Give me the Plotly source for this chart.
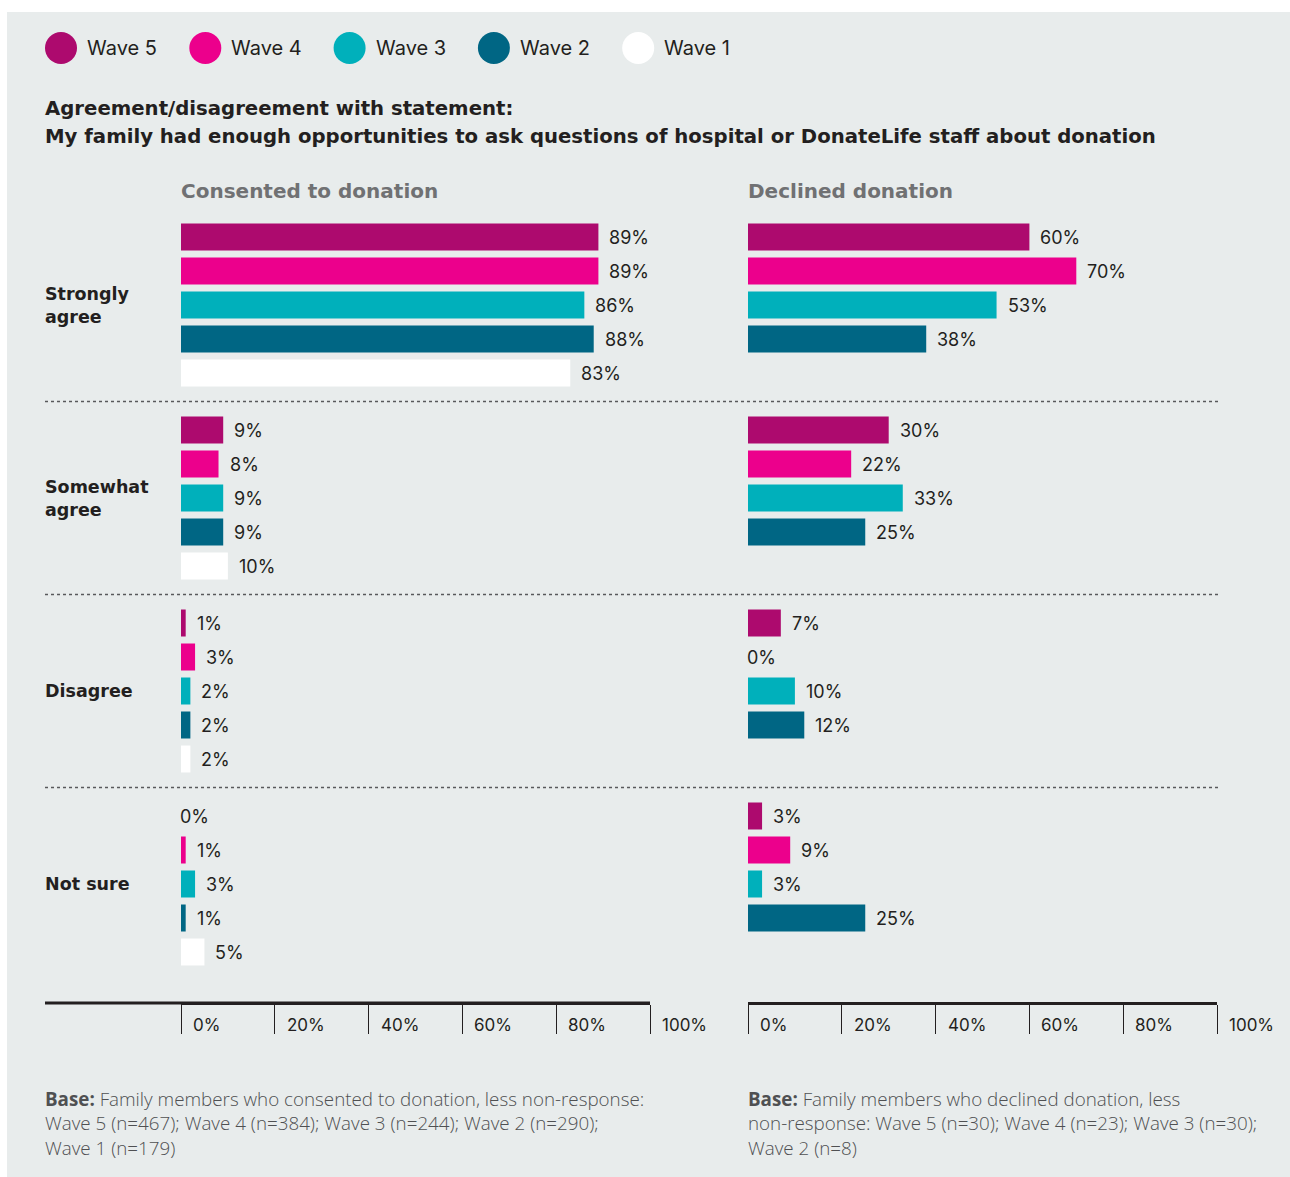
import plotly.graph_objects as go

# ---- data ---------------------------------------------------------------
waves = ["Wave 5", "Wave 4", "Wave 3", "Wave 2", "Wave 1"]
wave_colors = ["#ad0a6e", "#ec008c", "#00b0bb", "#006684", "#ffffff"]
responses = ["Strongly<br>agree", "Somewhat<br>agree", "Disagree", "Not sure"]

# percentages per response, ordered Wave 5 .. Wave 1
consented = {
    "Wave 5": [89, 9, 1, 0],
    "Wave 4": [89, 8, 3, 1],
    "Wave 3": [86, 9, 2, 3],
    "Wave 2": [88, 9, 2, 1],
    "Wave 1": [83, 10, 2, 5],
}
# Wave 1 was not asked of families who declined
declined = {
    "Wave 5": [60, 30, 7, 3],
    "Wave 4": [70, 22, 0, 9],
    "Wave 3": [53, 33, 10, 3],
    "Wave 2": [38, 25, 12, 25],
}
tick_values = [0, 20, 40, 60, 80, 100]

title_lines = [
    "Agreement/disagreement with statement:",
    "My family had enough opportunities to ask questions of hospital or DonateLife staff about donation",
]
panel_titles = ["Consented to donation", "Declined donation"]
base_notes = [
    "<b>Base:</b> Family members who consented to donation, less non-response:<br>"
    "Wave 5 (n=467); Wave 4 (n=384); Wave 3 (n=244); Wave 2 (n=290);<br>"
    "Wave 1 (n=179)",
    "<b>Base:</b> Family members who declined donation, less<br>"
    "non-response: Wave 5 (n=30); Wave 4 (n=23); Wave 3 (n=30);<br>"
    "Wave 2 (n=8)",
]

# ---- layout geometry (pixels) -------------------------------------------
W, H = 1290, 1177
FIRST_ROW = 237
GROUP_STEP = 193
ROW_STEP = 34
BAR_H = 27
AXIS_Y = 1003
LEFT_X0, LEFT_X1 = 181, 650
RIGHT_X0, RIGHT_X1 = 748, 1217
LABEL_X = 45
PAD = -2  # cancels the annotation box padding so text starts on its anchor

TEXT = "#231f20"
FONT = "Inter"
BOLD_FONT = "DejaVu Sans"
NOTE_FONT = "Open Sans"


def px(x):
    return x / W


def row_y(g, w):
    return FIRST_ROW + g * GROUP_STEP + w * ROW_STEP


fig = go.Figure()
annotations = []
shapes = []

# background panel
shapes.append(dict(type="rect", xref="paper", yref="paper",
                   x0=px(7), x1=1, y0=0, y1=1 - 12 / H,
                   fillcolor="#e8ecec", line=dict(width=0), layer="below"))

# ---- bars and value labels ------------------------------------------------
for panel, (data, xa) in enumerate([(consented, "x"), (declined, "x2")]):
    for w, wave in enumerate(waves):
        if wave not in data:
            continue
        vals = data[wave]
        ys = [row_y(g, w) for g in range(len(responses))]
        fig.add_trace(go.Bar(
            x=vals, y=ys, orientation="h", width=BAR_H,
            marker=dict(color=wave_colors[w], line=dict(width=0)),
            xaxis=xa, yaxis="y", showlegend=False, name=wave,
            hoverinfo="skip",
        ))
        for v, y in zip(vals, ys):
            annotations.append(dict(
                x=v, y=y, xref=xa, yref="y", text=f"{v}%",
                xanchor="left", yanchor="middle",
                xshift=11 + PAD if v > 0 else -1 + PAD, showarrow=False,
                font=dict(family=FONT, size=18, color=TEXT),
            ))

# ---- response labels and dotted separators --------------------------------
for g, resp in enumerate(responses):
    annotations.append(dict(
        x=px(LABEL_X), y=row_y(g, 2), xref="paper", yref="y", text=f"<b>{resp}</b>",
        xanchor="left", yanchor="middle", align="left", showarrow=False, xshift=PAD,
        font=dict(family=BOLD_FONT, size=17.5, color=TEXT),
    ))
    if g < len(responses) - 1:
        sep = (row_y(g, 4) + row_y(g + 1, 0)) / 2
        shapes.append(dict(type="line", xref="paper", yref="y",
                           x0=px(LABEL_X), x1=px(1218), y0=sep, y1=sep,
                           line=dict(color="#58595b", width=1.5, dash="dot")))

# ---- panel titles ----------------------------------------------------------
for xa, t in zip(["x", "x2"], panel_titles):
    annotations.append(dict(
        x=0, y=191, xref=xa, yref="y", text=f"<b>{t}</b>",
        xanchor="left", yanchor="middle", showarrow=False, xshift=PAD,
        font=dict(family=BOLD_FONT, size=20, color="#707173"),
    ))

# ---- chart title -----------------------------------------------------------
for i, line in enumerate(title_lines):
    annotations.append(dict(
        x=px(LABEL_X), y=108 + i * 28, xref="paper", yref="y", text=f"<b>{line}</b>",
        xanchor="left", yanchor="middle", showarrow=False, xshift=PAD,
        font=dict(family=BOLD_FONT, size=19.7, color=TEXT),
    ))

# ---- legend (circles + labels) --------------------------------------------
for i, wave in enumerate(waves):
    cx = 61 + i * 144.3
    shapes.append(dict(type="circle", xref="paper", yref="y",
                       xsizemode="pixel", xanchor=px(cx), x0=-16, x1=16,
                       y0=48 - 16, y1=48 + 16,
                       fillcolor=wave_colors[i], line=dict(width=0)))
    annotations.append(dict(
        x=px(cx + 26), y=48, xref="paper", yref="y", text=wave,
        xanchor="left", yanchor="middle", showarrow=False, xshift=PAD,
        font=dict(family=FONT, size=20, color=TEXT),
    ))

# ---- bottom axes: extension line + tick labels ---------------------------
shapes.append(dict(type="line", xref="paper", yref="y",
                   x0=px(LABEL_X), x1=px(LEFT_X1), y0=AXIS_Y, y1=AXIS_Y,
                   line=dict(color=TEXT, width=3)))
for xa in ["x", "x2"]:
    for v in tick_values:
        annotations.append(dict(
            x=v, y=1025, xref=xa, yref="y", text=f"{v}%",
            xanchor="left", yanchor="middle", xshift=12 + PAD, showarrow=False,
            font=dict(family=FONT, size=17, color=TEXT),
        ))

# ---- base notes -----------------------------------------------------------
for xpos, note in zip([LABEL_X, RIGHT_X0], base_notes):
    annotations.append(dict(
        x=px(xpos), y=1084, xref="paper", yref="y", text=note,
        xanchor="left", yanchor="top", align="left", showarrow=False, xshift=PAD,
        font=dict(family=NOTE_FONT, size=18.8, color="#4f5052", weight=300),
    ))

axis_common = dict(
    range=[0, 100], anchor="free", position=1 - AXIS_Y / H,
    showline=True, linewidth=3, linecolor=TEXT,
    ticks="outside", ticklen=29, tickwidth=1.2, tickcolor=TEXT,
    tickvals=tick_values, showticklabels=False,
    showgrid=False, zeroline=False, fixedrange=True,
)

fig.update_layout(
    width=W, height=H,
    margin=dict(l=0, r=0, t=0, b=0),
    paper_bgcolor="#ffffff", plot_bgcolor="rgba(0,0,0,0)",
    barmode="overlay",
    xaxis=dict(domain=[px(LEFT_X0), px(LEFT_X1)], **axis_common),
    xaxis2=dict(domain=[px(RIGHT_X0), px(RIGHT_X1)], **axis_common),
    yaxis=dict(range=[H, 0], domain=[0, 1], visible=False, fixedrange=True),
    shapes=shapes,
    annotations=annotations,
    showlegend=False,
)

fig.write_html("out.html")
